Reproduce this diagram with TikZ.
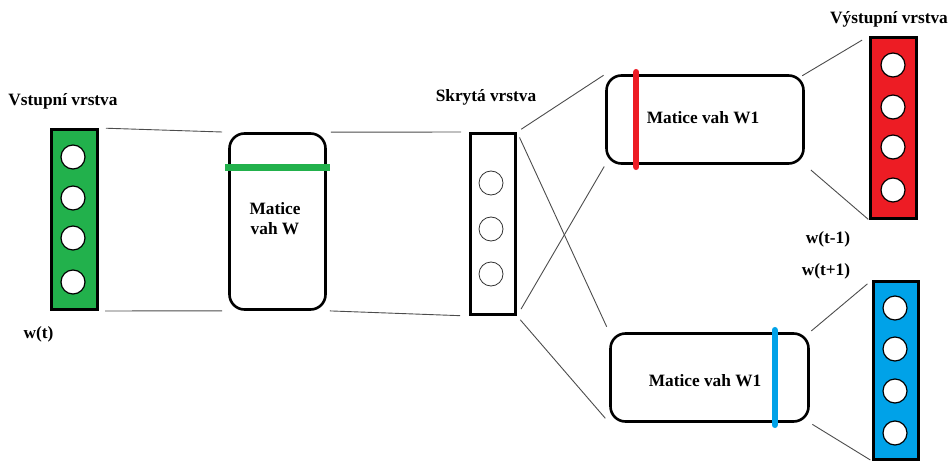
\documentclass[tikz,border=0pt]{standalone}
\usepackage{fontspec}
\setmainfont{Liberation Serif}
\definecolor{ingreen}{RGB}{34,177,76}
\definecolor{outred}{RGB}{237,28,36}
\definecolor{outblue}{RGB}{0,162,232}
\begin{document}
\begin{tikzpicture}[x=1pt,y=-1pt,
  layerbox/.style={draw=black,line width=3pt,rectangle,minimum width=46pt,inner sep=0pt},
  neuron/.style={draw=black,fill=white,circle,line width=1.2pt,minimum size=24pt,inner sep=0pt},
  hneuron/.style={draw=black!80,fill=white,circle,line width=0.8pt,minimum size=24pt,inner sep=0pt},
  matrixbox/.style={draw=black,line width=2.6pt,rectangle,rounded corners=15pt,inner sep=0pt},
  bar/.style={line width=6.5pt,line cap=round},
  link/.style={draw=black!70,line width=0.9pt},
  lbl/.style={font=\fontsize{17.3}{20}\selectfont\bfseries,text=black,inner sep=0pt,align=center}]
\useasboundingbox (0,0) rectangle (949,462);

% input layer
\node[layerbox,fill=ingreen,minimum height=180pt] (in) at (74.5,219.5) {};
\node[neuron] (i1) at (73,157) {};
\node[neuron] (i2) at (73,198) {};
\node[neuron] (i3) at (73,238) {};
\node[neuron] (i4) at (73,282) {};
\node[lbl] (inlbl) at (63,101) {Vstupní vrstva};
\node[lbl] (wt) at (38.5,334) {w(t)};

% weight matrix W
\node[matrixbox,minimum width=96pt,minimum height=176pt] (W) at (277.5,221.5) {};
\draw[bar,ingreen,line cap=butt] ([yshift=-35.5pt]W.north west) ++(-3,0) -- ([yshift=-35.5pt]W.north east) -- ++(3,0);
\node[lbl] (Wlbl) at (275,219) {Matice\\vah W};

% hidden layer
\node[layerbox,fill=white,minimum width=45pt,minimum height=181pt] (hid) at (493,224) {};
\node[hneuron] (h1) at (491,183) {};
\node[hneuron] (h2) at (491,229) {};
\node[hneuron] (h3) at (491,274) {};
\node[lbl] (hidlbl) at (486,97) {Skrytá vrstva};

% output weight matrices
\node[matrixbox,minimum width=197pt,minimum height=88pt] (Wa) at (705,119.5) {};
\draw[bar,outred] ([xshift=31pt]Wa.north west) ++(0,-2) -- ([xshift=31pt]Wa.south west) -- ++(0,2);
\node[lbl] (Walbl) at (703,118) {Matice vah W1};

\node[matrixbox,minimum width=198pt,minimum height=88pt] (Wb) at (709.5,377.5) {};
\draw[bar,outblue] ([xshift=-35pt]Wb.north east) ++(0,-2) -- ([xshift=-35pt]Wb.south east) -- ++(0,2);
\node[lbl] (Wblbl) at (705,381) {Matice vah W1};

% output layers
\node[layerbox,fill=outred,minimum height=181pt] (outa) at (893.5,128) {};
\node[neuron] (a1) at (893,65) {};
\node[neuron] (a2) at (893,107) {};
\node[neuron] (a3) at (893,147) {};
\node[neuron] (a4) at (893,190) {};
\node[lbl] (outlbl) at (889,19) {Výstupní vrstva};
\node[lbl] (wtm) at (828,239) {w(t-1)};

\node[layerbox,fill=outblue,minimum width=45pt,minimum height=178pt] (outb) at (896,370.5) {};
\node[neuron] (b1) at (895,308) {};
\node[neuron] (b2) at (895,349) {};
\node[neuron] (b3) at (895,391) {};
\node[neuron] (b4) at (895,433) {};
\node[lbl] (wtp) at (826,271) {w(t+1)};

% connectors
\draw[link,shorten <=7pt,shorten >=6pt] (in.north east) -- (W.north west);
\draw[link,shorten <=6pt,shorten >=6pt] (in.south east) -- (W.south west);
\draw[link,shorten <=4pt,shorten >=8pt] (W.north east) -- (hid.north west);
\draw[link,shorten <=3pt,shorten >=9pt] (W.south east) -- (hid.south west);
\draw[link,shorten <=5pt,shorten >=2pt] (hid.north east) -- (Wa.north west);
\draw[link,shorten <=6pt,shorten >=6pt] (hid.north east) -- (Wb.north west);
\draw[link,shorten <=8pt,shorten >=2pt] (hid.south east) -- (Wa.south west);
\draw[link,shorten <=5pt,shorten >=6pt] (hid.south east) -- (Wb.south west);
\draw[link,shorten <=-3pt,shorten >=8pt] (Wa.north east) -- (outa.north west);
\draw[link,shorten <=8pt,shorten >=1pt] (Wa.south east) -- (outa.south west);
\draw[link,shorten <=2pt,shorten >=6pt] (Wb.north east) -- (outb.north west);
\draw[link,shorten <=3pt,shorten >=2pt] (Wb.south east) -- (outb.south west);
\end{tikzpicture}
\end{document}
